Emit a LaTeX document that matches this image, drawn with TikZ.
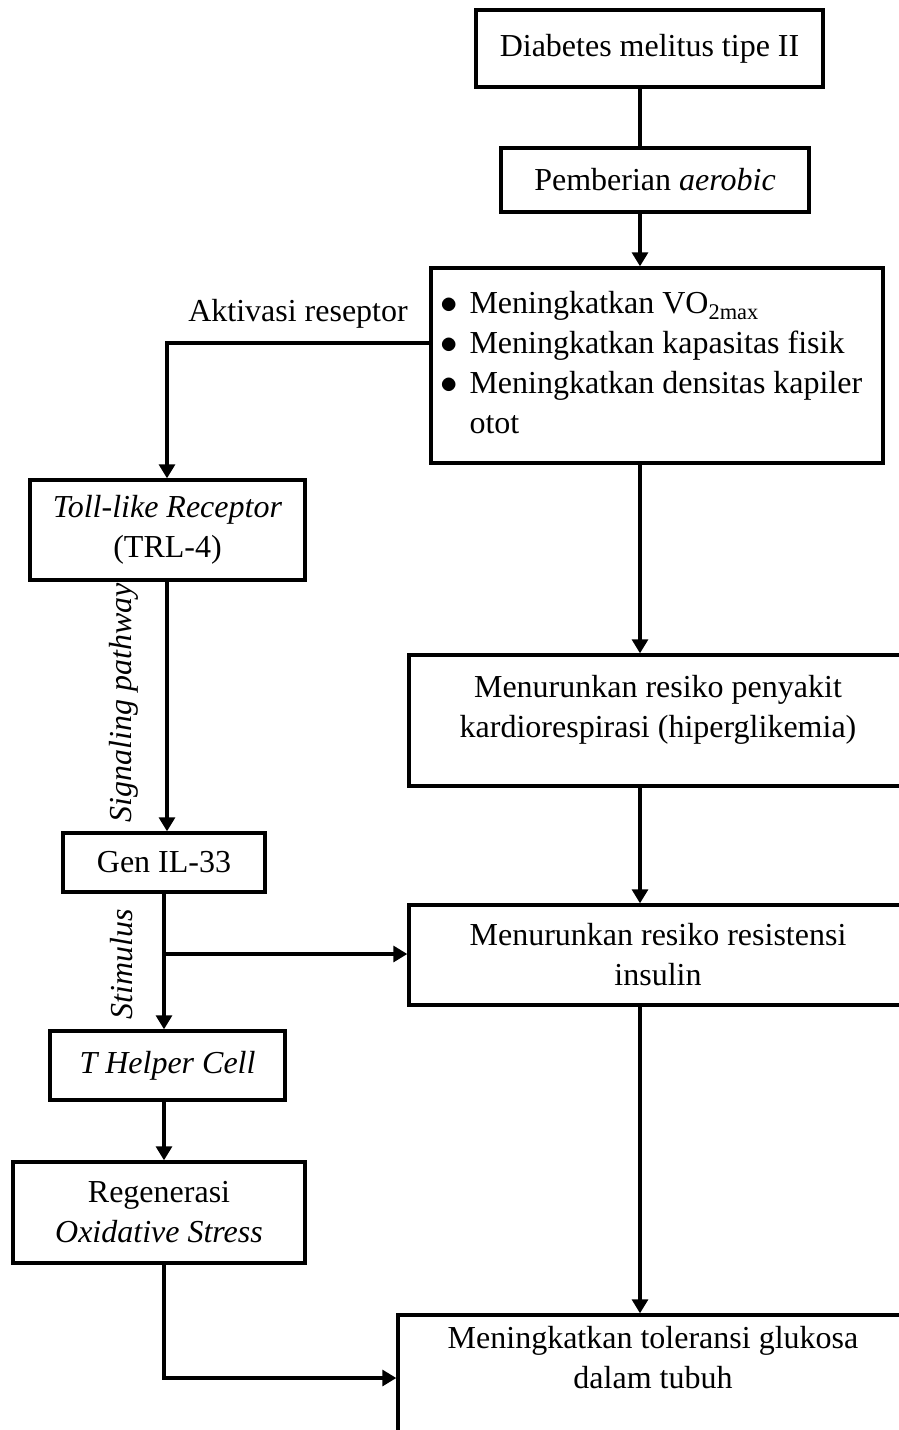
\documentclass[tikz,border=0pt]{standalone}
\usepackage{fontspec}
\usepackage{graphicx}
\setmainfont{Liberation Serif}
\usetikzlibrary{arrows.meta,positioning}

\newcommand{\bigdot}{\scalebox{1.4}{$\bullet$}}

\begin{document}
\begin{tikzpicture}[x=1pt,y=-1pt,
    font=\fontsize{32}{40}\selectfont,
    box/.style={draw, line width=3.4pt, inner sep=0pt, align=center},
    conn/.style={line width=3.2pt},
    arr/.style={conn, -{Triangle[length=14pt,width=16pt]}},
    lbl/.style={inner sep=0pt, font=\fontsize{32}{40}\selectfont\itshape}]
    \useasboundingbox (0,0) rectangle (899,1430);
    \clip (0,0) rectangle (899,1430);

    \pgfmathsetmacro {\sx}{640}  %x of right line
    \pgfmathsetmacro {\ax}{167}  %x of upper left line
    \pgfmathsetmacro {\bx}{164}  %x of lower left line
    \coordinate (spine) at (\sx,0);
    \coordinate (cA) at (\ax,0);
    \coordinate (cB) at (\bx,0);

    %Right column
    \node[box, minimum width=347pt, minimum height=77pt] (diab) at (649.5,48.5)
        {Diabetes melitus tipe II};
    \node[box, minimum width=308pt, minimum height=64pt] (pemb) at (655,180)
        {Pemberian \textit{aerobic}};
    \node[box, minimum width=452pt, minimum height=195pt] (manf) at (657,365.5)
        {\begin{tabular}{@{}l@{\hspace{11.6pt}}p{404pt}@{}}
         \bigdot & Meningkatkan VO\textsubscript{2max}\\
         \bigdot & Meningkatkan kapasitas fisik\\
         \bigdot & Meningkatkan densitas kapiler\\
                 & otot
         \end{tabular}};
    \node[box, minimum width=498pt, minimum height=131pt, text depth=29pt] (kardio) at (658,720.5)
        {Menurunkan resiko penyakit\\kardiorespirasi (hiperglikemia)};
    \node[box, minimum width=498pt, minimum height=100pt] (insulin) at (658,955)
        {Menurunkan resiko resistensi\\insulin};
    \node[box, minimum width=510pt, minimum height=126pt, text depth=42pt] (gluk) at (653,1378)
        {Meningkatkan toleransi glukosa\\dalam tubuh};

    %Left column
    \node[box, minimum width=275pt, minimum height=100pt] (toll) at (167.5,530)
        {\textit{Toll-like Receptor}\\(TRL-4)};
    \node[box, minimum width=202pt, minimum height=59pt] (gen) at (164,862.5)
        {Gen IL-33};
    \node[box, minimum width=235pt, minimum height=69pt] (thc) at (167.5,1065.5)
        {\textit{T Helper Cell}};
    \node[box, minimum width=292pt, minimum height=101pt] (regen) at (159,1212.5)
        {Regenerasi\\\textit{Oxidative Stress}};

    %Labels
    \node[inner sep=0pt] (aktiv) at (298,314) {Aktivasi reseptor};
    \node[lbl, rotate=90] (sigpath) at (123.5,703) {Signaling pathway};
    \node[lbl, rotate=90] (stim) at (122,964) {Stimulus};

    %Connectors right
    \draw[conn] (diab.south -| spine) -- (pemb.north -| spine);
    \draw[arr]  (pemb.south -| spine) -- (manf.north -| spine);
    \draw[arr]  (manf.south -| spine) -- (kardio.north -| spine);
    \draw[arr]  (kardio.south -| spine) -- (insulin.north -| spine);
    \draw[arr]  (insulin.south -| spine) -- (gluk.north -| spine);

    %Connectors left
    \draw[arr]  ([yshift=22.5pt]manf.west) -| (toll.north -| cA);
    \draw[arr]  (toll.south -| cA) -- (gen.north -| cA);
    \draw[arr]  (gen.south -| cB) -- (thc.north -| cB);
    \coordinate (branch) at (\bx,954);
    \draw[arr]  (branch) -- (branch -| insulin.west);
    \draw[arr]  (thc.south -| cB) -- (regen.north -| cB);
    \draw[arr]  (regen.south -| cB) |- (gluk.west);
\end{tikzpicture}
\end{document}
